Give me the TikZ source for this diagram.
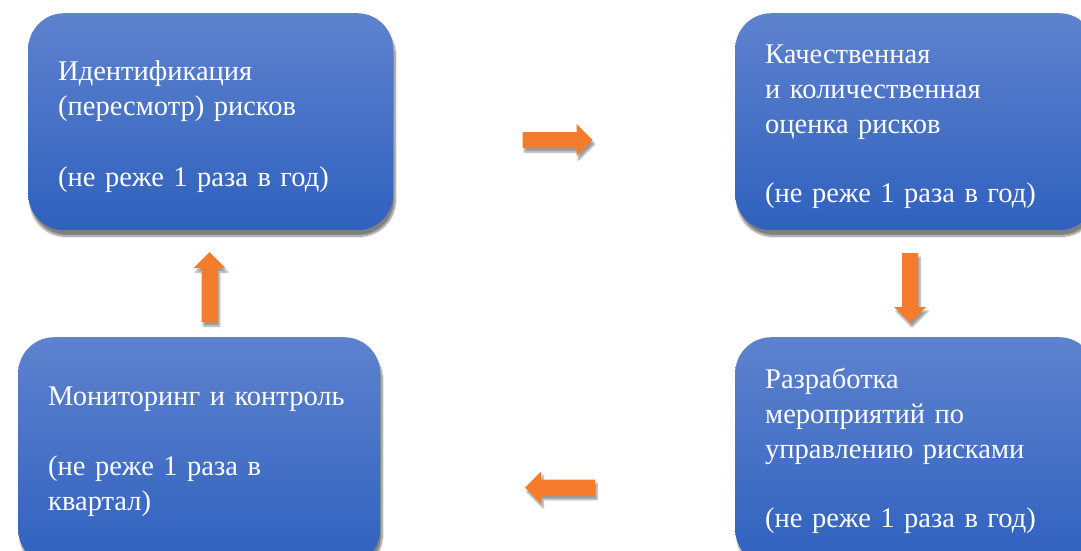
\documentclass[tikz,border=0pt]{standalone}
\usepackage{fontspec}
\setmainfont{Liberation Serif}
\usetikzlibrary{shadows.blur}
\definecolor{boxtop}{RGB}{94,130,206}
\definecolor{boxbot}{RGB}{47,97,190}
\definecolor{arrfill}{RGB}{244,124,44}
\tikzset{
  stage/.style={rectangle, rounded corners=36pt, top color=boxtop, bottom color=boxbot,
    text=white, align=left, anchor=north west, inner xsep=30pt, inner ysep=0pt,
    font=\fontsize{28.5}{35}\selectfont,
    blur shadow={shadow xshift=2pt, shadow yshift=-6pt, shadow blur steps=12, shadow opacity=50}},
  barrow/.pic={
    \fill[arrfill, blur shadow={shadow xshift=2pt, shadow yshift=-4pt, shadow blur steps=6, shadow opacity=40}]
      (-35,-8) -- (19,-8) -- (19,-16) -- (35,0) -- (19,16) -- (19,8) -- (-35,8) -- cycle;
  }
}
\begin{document}
\begin{tikzpicture}[x=1pt,y=-1pt]
\useasboundingbox (0,0) rectangle (1081,550);
\clip (0,0) rectangle (1081,550);
\node[stage, minimum width=365pt, minimum height=217pt, text width=305pt] (ident) at (28,13)
  {\rule{0pt}{30pt}Идентификация\\(пересмотр) рисков\\[36pt](не реже 1 раза в год)};
\node[stage, minimum width=360pt, minimum height=217pt, text width=300pt] (eval) at (735,13)
  {\rule{0pt}{29pt}Качественная\\и количественная\\оценка рисков\\[34pt](не реже 1 раза в год)};
\node[stage, minimum width=362pt, minimum height=228pt, text width=302pt] (monit) at (18,337)
  {Мониторинг и контроль\\[35pt](не реже 1 раза в\\квартал)};
\node[stage, minimum width=360pt, minimum height=228pt, text width=300pt] (plan) at (735,337)
  {Разработка\\мероприятий по\\управлению рисками\\[34pt](не реже 1 раза в год)};
\pic (toeval) at (557.5,140) {barrow};
\pic[rotate=-90] (toplan) at (910,288) {barrow};
\pic[rotate=180] (tomonit) at (560,487.5) {barrow};
\pic[rotate=90] (toident) at (209.5,287) {barrow};
\end{tikzpicture}
\end{document}
